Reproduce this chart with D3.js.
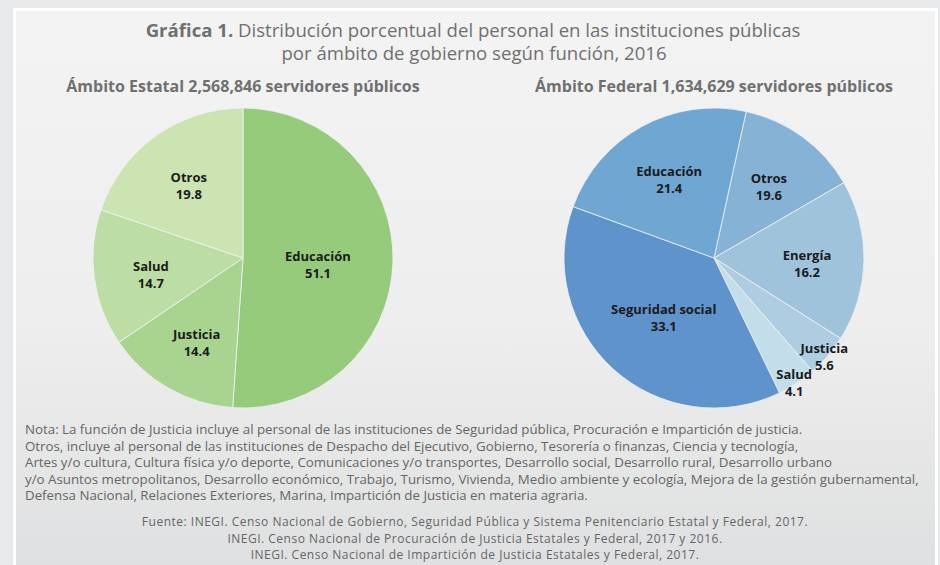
<!DOCTYPE html>
<html>
<head>
<meta charset="utf-8">
<script src="https://cdn.jsdelivr.net/npm/d3@7"></script>
<style>
  html, body { margin: 0; padding: 0; background: #e9eaeb; }
  svg { display: block; font-family: "Open Sans", "Noto Sans", sans-serif; }
</style>
</head>
<body>
<div id="chart"></div>
<script>
var width = 940,
    height = 565;

// Ámbito estatal
var estatalCats = ["Educación", "Justicia", "Salud", "Otros"];
var estatalValues = [51.1, 14.4, 14.7, 19.8];
var estatalColors = ["#97cb7c", "#a8d48f", "#bcdea5", "#cce4b2"];

// Ámbito federal (printed labels)
var federalCats = ["Otros", "Energía", "Justicia", "Salud", "Seguridad social", "Educación"];
var federalValues = [19.6, 16.2, 5.6, 4.1, 33.1, 21.4];
// slice sizes as drawn in the reference (they don't follow the printed numbers exactly)
var federalShares = [13.2, 17.4, 4.6, 4.2, 37.8, 22.9];
var federalColors = ["#86b2d5", "#9fc3db", "#aecde0", "#c3dde9", "#5f93cb", "#70a6d2"];

var titleBold = "Gráfica 1.";
var titleRest = " Distribución porcentual del personal en las instituciones públicas";
var titleLine2 = "por ámbito de gobierno según función, 2016";
var subEstatal = "Ámbito Estatal 2,568,846 servidores públicos";
var subFederal = "Ámbito Federal 1,634,629 servidores públicos";

var notas = [
  "Nota: La función de Justicia incluye al personal de las instituciones de Seguridad pública, Procuración e Impartición de justicia.",
  "Otros, incluye al personal de las instituciones de Despacho del Ejecutivo, Gobierno, Tesorería o finanzas, Ciencia y tecnología,",
  "Artes y/o cultura, Cultura física y/o deporte, Comunicaciones y/o transportes, Desarrollo social, Desarrollo rural, Desarrollo urbano",
  "y/o Asuntos metropolitanos, Desarrollo económico, Trabajo, Turismo, Vivienda, Medio ambiente y ecología, Mejora de la gestión gubernamental,",
  "Defensa Nacional, Relaciones Exteriores, Marina, Impartición de Justicia en materia agraria."
];
var fuentes = [
  "Fuente: INEGI. Censo Nacional de Gobierno, Seguridad Pública y Sistema Penitenciario Estatal y Federal, 2017.",
  "INEGI. Censo Nacional de Procuración de Justicia Estatales y Federal, 2017 y 2016.",
  "INEGI. Censo Nacional de Impartición de Justicia Estatales y Federal, 2017."
];

var svg = d3.select("#chart")
  .append("svg")
  .attr("width", width)
  .attr("height", height);

// background panel
var defs = svg.append("defs");
var grad = defs.append("linearGradient")
  .attr("id", "panelGrad")
  .attr("x1", 0).attr("y1", 0).attr("x2", 0).attr("y2", 1);
grad.append("stop").attr("offset", "0%").attr("stop-color", "#f3f3f3");
grad.append("stop").attr("offset", "55%").attr("stop-color", "#eeeeee");
grad.append("stop").attr("offset", "100%").attr("stop-color", "#dedfe0");

svg.append("rect")
  .attr("x", 14.5).attr("y", 9.5)
  .attr("width", 922).attr("height", 570)
  .attr("fill", "url(#panelGrad)")
  .attr("stroke", "#ffffff")
  .attr("stroke-width", 3);

// title
var title = svg.append("text")
  .attr("x", 473)
  .attr("y", 37)
  .attr("text-anchor", "middle")
  .attr("fill", "#707070")
  .style("font-size", "18.6px");
title.append("tspan").attr("font-weight", "bold").text(titleBold);
title.append("tspan").text(titleRest);

svg.append("text")
  .attr("x", 474)
  .attr("y", 60)
  .attr("text-anchor", "middle")
  .attr("fill", "#707070")
  .style("font-size", "18.6px")
  .text(titleLine2);

var r = 150;
var arc = d3.arc().innerRadius(0).outerRadius(r);

function drawPie(cx, cy, subtitle, cats, shares, labels, colors, startDeg) {
  var g = svg.append("g").attr("transform", "translate(" + cx + "," + cy + ")");

  svg.append("text")
    .attr("x", cx)
    .attr("y", 92)
    .attr("text-anchor", "middle")
    .attr("fill", "#707070")
    .attr("font-weight", "bold")
    .style("font-size", "16px")
    .text(subtitle);

  var start = startDeg * Math.PI / 180;
  var pie = d3.pie()
    .sort(null)
    .value(function(d) { return d.share; })
    .startAngle(start)
    .endAngle(start + 2 * Math.PI);

  var data = cats.map(function(c, i) {
    return { cat: c, share: shares[i], label: labels[i], color: colors[i] };
  });
  var arcs = pie(data);

  g.selectAll("path")
    .data(arcs)
    .join("path")
    .attr("d", arc)
    .attr("fill", function(d) { return d.data.color; })
    .attr("stroke", "#eef3f6")
    .attr("stroke-width", 0.8);

  var lab = g.selectAll("text.lab")
    .data(arcs)
    .join("text")
    .attr("class", "lab")
    .attr("text-anchor", "middle")
    .attr("fill", "#1b1b1b")
    .attr("font-weight", "bold")
    .style("font-size", "13px")
    .attr("transform", function(d) {
      var span = d.endAngle - d.startAngle;
      var rr = span < 0.4 ? r * 0.97 : (span > 2.0 ? r * 0.5 : r * 0.62);
      var a = (d.startAngle + d.endAngle) / 2;
      return "translate(" + (Math.sin(a) * rr) + "," + (-Math.cos(a) * rr) + ")";
    });
  lab.append("tspan").attr("x", 0).attr("y", 0).text(function(d) { return d.data.cat; });
  lab.append("tspan").attr("x", 0).attr("y", 17).text(function(d) { return d.data.label.toFixed(1); });
}

drawPie(243, 258, subEstatal, estatalCats, estatalValues, estatalValues, estatalColors, 0);
drawPie(714, 258, subFederal, federalCats, federalShares, federalValues, federalColors, 12.4);

// notes
svg.append("g")
  .selectAll("text")
  .data(notas)
  .join("text")
  .attr("x", 25)
  .attr("y", function(d, i) { return 434 + i * 16.6; })
  .attr("fill", "#666666")
  .style("font-size", "13.3px")
  .text(function(d) { return d; });

svg.append("g")
  .selectAll("text")
  .data(fuentes)
  .join("text")
  .attr("x", 475)
  .attr("y", function(d, i) { return 526 + i * 16.5; })
  .attr("text-anchor", "middle")
  .attr("fill", "#666666")
  .style("font-size", "12px")
  .style("letter-spacing", "0.5px")
  .text(function(d) { return d; });
</script>
</body>
</html>
